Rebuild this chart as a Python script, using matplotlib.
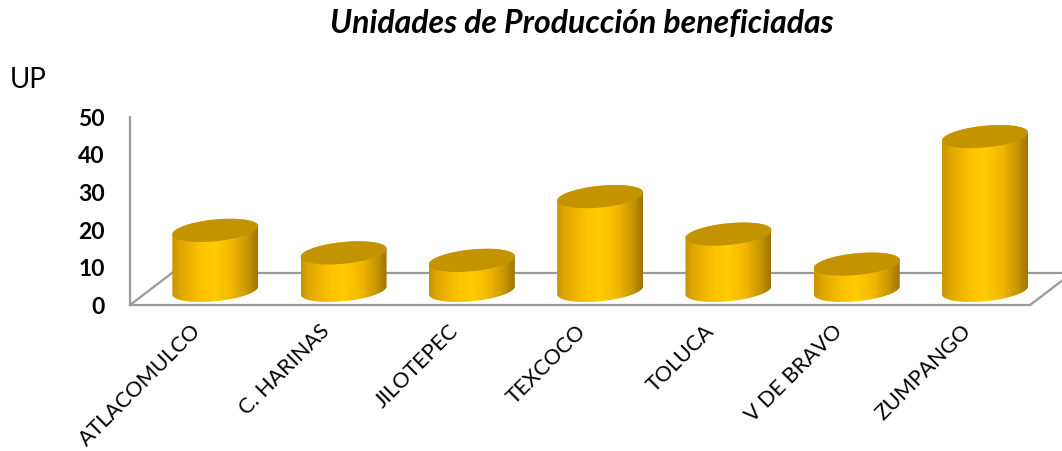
import numpy as np
import matplotlib
matplotlib.use('Agg')
import matplotlib.pyplot as plt
from matplotlib.patches import Polygon
from matplotlib.colors import LinearSegmentedColormap
from matplotlib.transforms import ScaledTranslation

# ----- DATA -----
municipios = ['ATLACOMULCO', 'C. HARINAS', 'JILOTEPEC', 'TEXCOCO', 'TOLUCA', 'V DE BRAVO', 'ZUMPANGO']
unidades = [16, 10, 8, 25, 15, 7, 41]
y_ticks = [0, 10, 20, 30, 40, 50]

plt.rcParams['font.family'] = ['Lato', 'DejaVu Sans']

# ----- 3D look (Excel style cylinders) -----
depth_dx, depth_dy = 0.33, 8.6      # offset of the back edge of the floor
bar_dx, bar_base = 0.165, 3.9       # cylinders sit half way into the floor
rx, ry, tilt = 0.335, 2.9, 1.07     # ellipse radii and perspective tilt

body_cmap = LinearSegmentedColormap.from_list('oro', [
    (0.0, '#C89400'), (0.1, '#E0A800'), (0.35, '#FFC400'), (0.5, '#FFCB00'),
    (0.7, '#F2B800'), (0.88, '#C89600'), (1.0, '#9E7600')])
top_color = '#C49300'
line_color = '#9A9A9A'

fig = plt.figure(figsize=(10.62, 4.51), dpi=100)
ax = fig.add_axes([130 / 1062, 0, 932 / 1062, 1])


def ellipse_pts(xc, yc, t):
    return np.column_stack([xc + rx * np.cos(t), yc + ry * np.sin(t) + tilt * np.cos(t)])


# floor + value axis line
x0, x1 = -0.5, len(municipios) - 0.5 + 0.016
ax.plot([x0, x1], [0, 0], color=line_color, lw=1.6, zorder=1, clip_on=False)
ax.plot([x0 + depth_dx, x1 + depth_dx], [depth_dy, depth_dy], color=line_color, lw=1.6, zorder=1, clip_on=False)
ax.plot([x0, x0 + depth_dx], [0, depth_dy], color=line_color, lw=1.6, zorder=1, clip_on=False)
ax.plot([x1, x1 + depth_dx], [0, depth_dy], color=line_color, lw=1.6, zorder=1, clip_on=False)
ax.plot([x0, x0], [0, y_ticks[-1]], color=line_color, lw=1.6, zorder=1, clip_on=False)

grad = np.linspace(0, 1, 200).reshape(1, -1)
for i, v in enumerate(unidades):
    xc = i + bar_dx
    y0, y1 = bar_base, bar_base + v
    body = np.vstack([ellipse_pts(xc, y1, np.linspace(0, np.pi, 80)),
                      ellipse_pts(xc, y0, np.linspace(np.pi, 2 * np.pi, 80))])
    clip = Polygon(body, closed=True, facecolor='none', edgecolor='none')
    ax.add_patch(clip)
    im = ax.imshow(grad, cmap=body_cmap, aspect='auto', interpolation='bilinear',
                   extent=[xc - rx, xc + rx, y0 - ry - tilt - 1, y1 + ry + tilt + 1], zorder=3)
    im.set_clip_path(clip)
    ax.add_patch(Polygon(ellipse_pts(xc, y1, np.linspace(0, 2 * np.pi, 160)), closed=True,
                         facecolor=top_color, edgecolor='none', zorder=4))

# category labels
off = ScaledTranslation(-3 / 100, -16 / 100, fig.dpi_scale_trans)
for i, name in enumerate(municipios):
    ax.text(i, 0, name, rotation=45, rotation_mode='anchor', ha='right', va='top',
            fontsize=15.5, color='black', transform=ax.transData + off)

ax.set_xlim(-0.5, 6.765)
ax.set_ylim(-38.93, 81.33)
ax.set_xticks([])
ax.set_yticks(y_ticks)
ax.tick_params(axis='y', length=0, pad=18, labelsize=16.5)
for lab in ax.get_yticklabels():
    lab.set_fontweight('bold')
for s in ax.spines.values():
    s.set_visible(False)
ax.patch.set_alpha(0)

fig.text(582 / 1062, 1 - 33 / 451, 'Unidades de Producción beneficiadas', ha='center', va='baseline',
         fontsize=23, fontweight='bold', fontstyle='italic')
fig.text(10 / 1062, 1 - 88 / 451, 'UP', ha='left', va='baseline', fontsize=20)

fig.savefig('out.png', dpi=100)
